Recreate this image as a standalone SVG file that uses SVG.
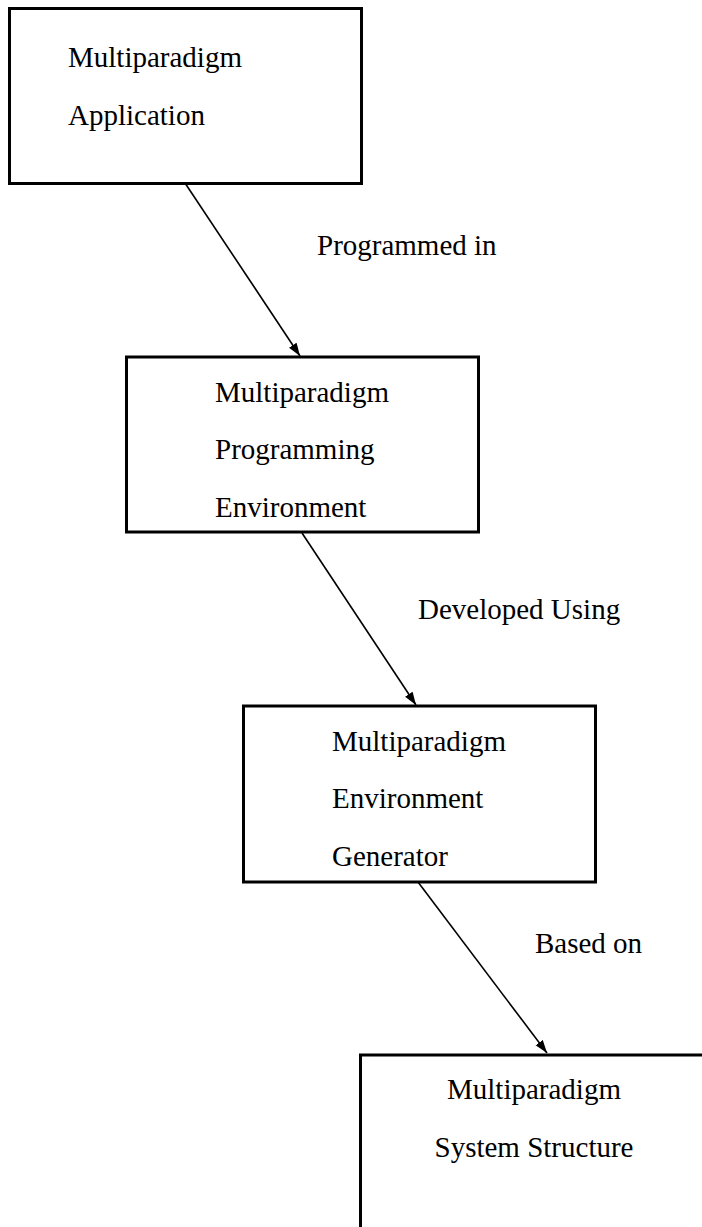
<svg xmlns="http://www.w3.org/2000/svg" width="702" height="1227" viewBox="0 0 702 1227">
<style>
.box{fill:#fff;stroke:#000;stroke-width:3}
.t{font-family:"Liberation Serif","Times New Roman",serif;font-size:29px;fill:#000}
.c{stroke:#000;stroke-width:1.6;fill:none}
</style>
<defs>
<marker id="ah" markerUnits="userSpaceOnUse" markerWidth="14" markerHeight="10" refX="13" refY="4.5" orient="auto">
<path d="M0,0 L13,4.5 L0,9 z" fill="#000"/>
</marker>
</defs>
<rect width="702" height="1227" fill="#fff"/>
<g id="connectors">
<line class="c" x1="185" y1="183" x2="300" y2="356" marker-end="url(#ah)"/>
<line class="c" x1="302" y1="533" x2="416" y2="705" marker-end="url(#ah)"/>
<line class="c" x1="418" y1="882" x2="547" y2="1053" marker-end="url(#ah)"/>
<text class="t" x="317" y="255">Programmed in</text>
<text class="t" x="418" y="619">Developed Using</text>
<text class="t" x="535" y="953">Based on</text>
</g>
<g id="node1">
<rect class="box" x="9.5" y="8.5" width="352" height="175"/>
<text class="t" x="68" y="67">Multiparadigm</text>
<text class="t" x="68" y="125">Application</text>
</g>
<g id="node2">
<rect class="box" x="126.5" y="357" width="352" height="175"/>
<text class="t" x="215" y="402">Multiparadigm</text>
<text class="t" x="215" y="459">Programming</text>
<text class="t" x="215" y="517">Environment</text>
</g>
<g id="node3">
<rect class="box" x="243.5" y="706" width="352" height="176"/>
<text class="t" x="332" y="751">Multiparadigm</text>
<text class="t" x="332" y="808">Environment</text>
<text class="t" x="332" y="866">Generator</text>
</g>
<g id="node4">
<rect class="box" x="360.5" y="1055" width="352" height="190"/>
<text class="t" x="534" y="1099" text-anchor="middle">Multiparadigm</text>
<text class="t" x="534" y="1157" text-anchor="middle">System Structure</text>
</g>
</svg>
